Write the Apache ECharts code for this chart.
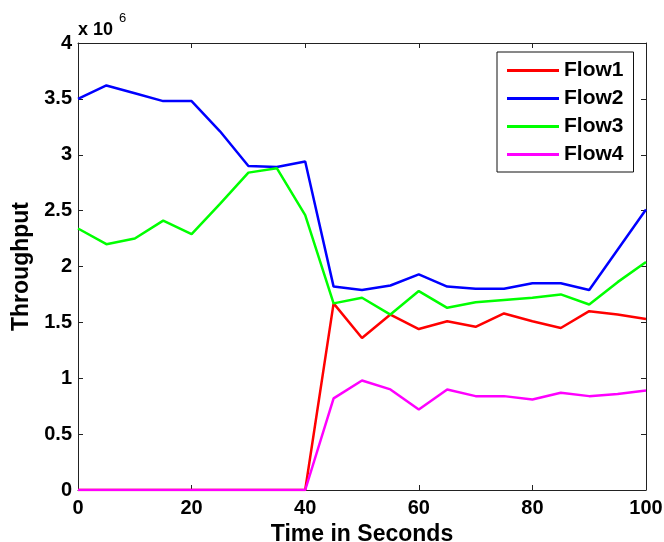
<!DOCTYPE html>
<html>
<head>
<meta charset="utf-8">
<script src="https://cdn.jsdelivr.net/npm/echarts@6/dist/echarts.min.js"></script>
<style>
  html, body { margin: 0; padding: 0; background: #fff; }
  #chart { width: 664px; height: 542px; }
</style>
</head>
<body>
<div id="chart"></div>
<script>
// Sampling instants (seconds)
const times = [0, 5, 10, 15, 20, 25, 30, 35, 40, 45, 50, 55, 60, 65, 70, 75, 80, 85, 90, 95, 100];

// Throughput per flow, in units of 10^6
const flow1 = [0, 0, 0, 0, 0, 0, 0, 0, 0, 1.67, 1.36, 1.57, 1.44, 1.51, 1.46, 1.58, 1.51, 1.45, 1.60, 1.57, 1.53];
const flow2 = [3.50, 3.62, 3.55, 3.48, 3.48, 3.21, 2.90, 2.89, 2.94, 1.82, 1.79, 1.83, 1.93, 1.82, 1.80, 1.80, 1.85, 1.85, 1.79, 2.15, 2.51];
const flow3 = [2.34, 2.20, 2.25, 2.41, 2.29, 2.56, 2.84, 2.88, 2.46, 1.67, 1.72, 1.57, 1.78, 1.63, 1.68, 1.70, 1.72, 1.75, 1.66, 1.86, 2.04];
const flow4 = [0, 0, 0, 0, 0, 0, 0, 0, 0, 0.82, 0.98, 0.90, 0.72, 0.90, 0.84, 0.84, 0.81, 0.87, 0.84, 0.86, 0.89];

const flowNames = ['Flow1', 'Flow2', 'Flow3', 'Flow4'];
const flowColors = ['#ff0000', '#0000ff', '#00ff00', '#ff00ff'];
const flowValues = [flow1, flow2, flow3, flow4];

const xTicks = [0, 20, 40, 60, 80, 100];
const yTicks = [0, 0.5, 1, 1.5, 2, 2.5, 3, 3.5, 4];

const FONT = '"Liberation Sans", Arial, Helvetica, sans-serif';
const AXIS_COLOR = '#222';

const chart = echarts.init(document.getElementById('chart'), null, { renderer: 'canvas' });

const boxAxisCommon = {
  axisLine: { show: true, onZero: false, lineStyle: { color: AXIS_COLOR, width: 1 } },
  axisTick: { show: true, inside: true, length: 5, lineStyle: { color: AXIS_COLOR, width: 1 } },
  splitLine: { show: false }
};

const option = {
  animation: false,
  backgroundColor: '#ffffff',
  grid: { left: 78, right: 18, top: 43, bottom: 52, containLabel: false, outerBoundsMode: 'none' },
  xAxis: [
    Object.assign({
      type: 'value', position: 'bottom',
      min: xTicks[0], max: xTicks[xTicks.length - 1], interval: 20,
      name: 'Time in Seconds', nameLocation: 'middle', nameGap: 30,
      nameTextStyle: { fontFamily: FONT, fontWeight: 'bold', fontSize: 23, color: '#000' },
      axisLabel: { fontFamily: FONT, fontWeight: 'bold', fontSize: 20, color: '#000', margin: 8 }
    }, boxAxisCommon),
    Object.assign({
      type: 'value', position: 'top',
      min: xTicks[0], max: xTicks[xTicks.length - 1], interval: 20,
      axisLabel: { show: false }
    }, boxAxisCommon)
  ],
  yAxis: [
    Object.assign({
      type: 'value', position: 'left',
      min: yTicks[0], max: yTicks[yTicks.length - 1], interval: 0.5,
      name: 'Throughput', nameLocation: 'middle', nameGap: 40,
      nameTextStyle: { fontFamily: FONT, fontWeight: 'bold', fontSize: 23, color: '#000' },
      axisLabel: { fontFamily: FONT, fontWeight: 'bold', fontSize: 20, color: '#000', margin: 6 }
    }, boxAxisCommon),
    Object.assign({
      type: 'value', position: 'right',
      min: yTicks[0], max: yTicks[yTicks.length - 1], interval: 0.5,
      axisLabel: { show: false }
    }, boxAxisCommon)
  ],
  legend: {
    data: flowNames,
    orient: 'vertical',
    left: 497,
    top: 52,
    padding: [8, 10, 7, 10],
    itemGap: 7,
    itemWidth: 52,
    itemHeight: 3,
    icon: 'rect',
    backgroundColor: '#ffffff',
    borderColor: '#111',
    borderWidth: 1,
    borderRadius: 0,
    textStyle: { fontFamily: FONT, fontWeight: 'bold', fontSize: 21, color: '#000' }
  },
  graphic: [
    {
      type: 'text', left: 78, top: 21,
      style: { text: 'x 10', fontFamily: FONT, fontWeight: 'bold', fontSize: 18, fill: '#000' }
    },
    {
      type: 'text', left: 119, top: 12,
      style: { text: '6', fontFamily: FONT, fontSize: 13, fill: '#000' }
    }
  ],
  series: flowNames.map((name, i) => ({
    name: name,
    type: 'line',
    xAxisIndex: 0,
    yAxisIndex: 0,
    symbol: 'none',
    color: flowColors[i],
    lineStyle: { color: flowColors[i], width: 2.5 },
    data: times.map((t, k) => [t, flowValues[i][k]])
  }))
};

chart.setOption(option);
</script>
</body>
</html>
